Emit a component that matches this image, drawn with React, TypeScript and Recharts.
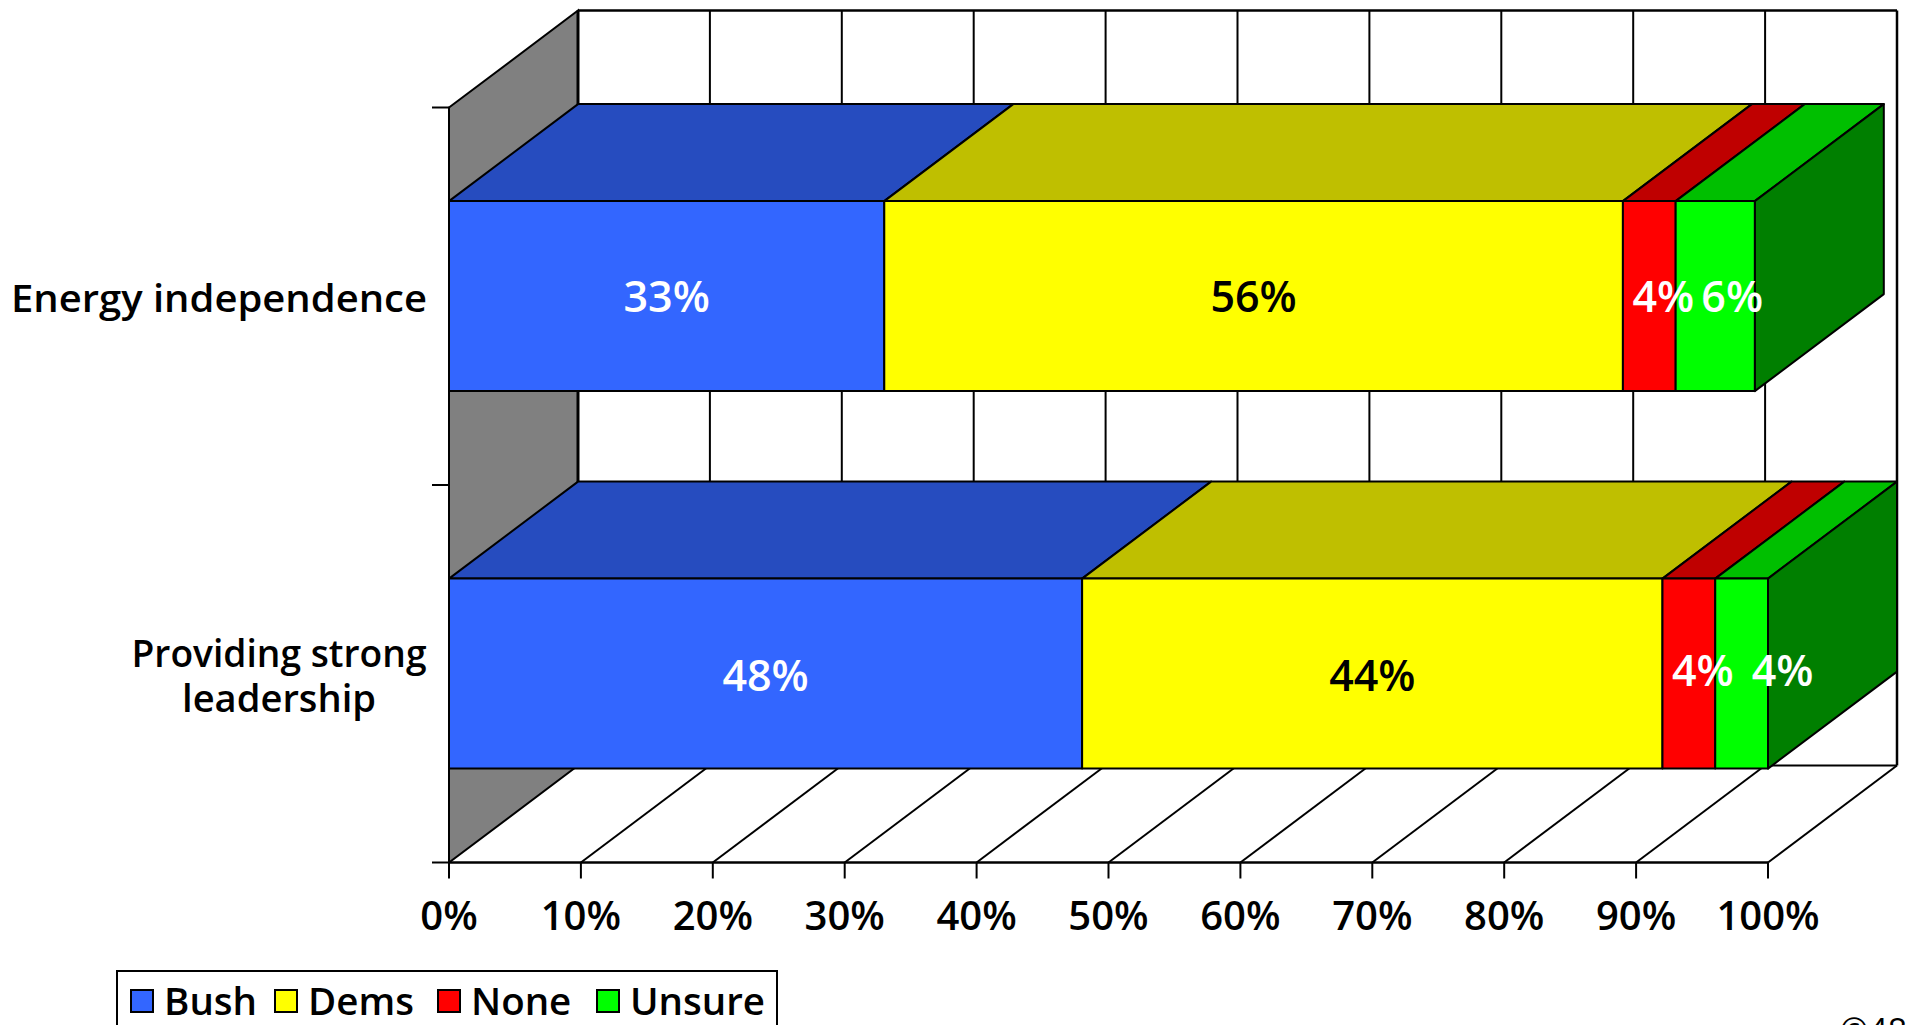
import {
  Bar,
  BarChart,
  CartesianGrid,
  LabelList,
  XAxis,
  YAxis,
} from "recharts";

const categories = ["Energy independence", "Providing strong leadership"];
const bushValues = [33, 48];
const demsValues = [56, 44];
const noneValues = [4, 4];
const unsureValues = [6, 4];
const xTicks = [0, 10, 20, 30, 40, 50, 60, 70, 80, 90, 100];

const tableData = categories.map((name, i) => ({
  name,
  Bush: bushValues[i],
  Dems: demsValues[i],
  None: noneValues[i],
  Unsure: unsureValues[i],
}));

const FONT = "'Open Sans', sans-serif";
const WIDTH = 1906;
const HEIGHT = 1025;
const PLOT_LEFT = 449;
const PLOT_TOP = 107.5;
const PLOT_RIGHT = 1768;
const PLOT_BOTTOM = 862.5;
const DX = 129;
const DY = 97;

// hand placed in the original, px right of the segment middle
const labelShift: Record<string, number[]> = {
  Bush: [0, 0],
  Dems: [0, 0],
  None: [14, 14],
  Unsure: [17, 41],
};
const labelLift: Record<string, number[]> = {
  Bush: [0, -2],
  Dems: [0, -2],
  None: [0, 3],
  Unsure: [0, 3],
};

const seriesStyles = [
  { key: "Bush", front: "#3366FF", top: "#264CBF", text: "#FFFFFF" },
  { key: "Dems", front: "#FFFF00", top: "#BFBF00", text: "#000000" },
  { key: "None", front: "#FF0000", top: "#BF0000", text: "#FFFFFF" },
  { key: "Unsure", front: "#00FF00", top: "#00BF00", text: "#FFFFFF" },
];

function Box3D(props: any) {
  const { x, y, width, height, front, top, isLast } = props;
  const r = x + width;
  return (
    <g stroke="#000" strokeWidth={2} strokeLinejoin="round">
      <polygon
        points={`${x},${y} ${x + DX},${y - DY} ${r + DX},${y - DY} ${r},${y}`}
        fill={top}
      />
      {isLast && (
        <polygon
          points={`${r},${y} ${r + DX},${y - DY} ${r + DX},${y + height - DY} ${r},${y + height}`}
          fill="#007F00"
        />
      )}
      <rect x={x} y={y} width={width} height={height} fill={front} />
    </g>
  );
}

// one call per x tick, so wall and floor lines follow the axis scale
function WallLine(props: any) {
  const { x1, y1, y2 } = props;
  const isFirst = Math.abs(x1 - PLOT_LEFT) < 1;
  const isEnd = Math.abs(x1 - PLOT_RIGHT) < 1;
  const band = (y2 - y1) / categories.length;
  return (
    <g stroke="#000" fill="none">
      {isFirst && (
        <>
          <polygon
            points={`${x1},${y1} ${x1 + DX},${y1 - DY} ${x1 + DX},${y2 - DY} ${x1},${y2}`}
            fill="#808080"
            strokeWidth={2}
          />
          <line x1={x1 + DX} y1={y1 - DY} x2={PLOT_RIGHT + DX} y2={y1 - DY} strokeWidth={2.5} />
          <line x1={x1 + DX} y1={y2 - DY} x2={PLOT_RIGHT + DX} y2={y2 - DY} strokeWidth={2} />
          <line x1={x1 + DX} y1={y1 - DY} x2={x1 + DX} y2={y2 - DY} strokeWidth={3} />
          {categories.concat("").map((_, i) => (
            <line
              key={i}
              x1={x1 - 17}
              y1={y1 + band * i}
              x2={x1}
              y2={y1 + band * i}
              strokeWidth={2}
            />
          ))}
        </>
      )}
      {!isFirst && (
        <>
          <line x1={x1 + DX} y1={y1 - DY} x2={x1 + DX} y2={y2 - DY} strokeWidth={isEnd ? 2.5 : 2} />
          <line x1={x1} y1={y2} x2={x1 + DX} y2={y2 - DY} strokeWidth={2} />
        </>
      )}
    </g>
  );
}

function ValueLabel(props: any) {
  const { x, y, width, height, value, index, seriesKey, color } = props;
  return (
    <text
      x={x + width / 2 + labelShift[seriesKey][index]}
      y={y + height / 2 + 4 - labelLift[seriesKey][index]}
      fill={color}
      fontFamily={FONT}
      fontSize={43}
      fontWeight={600}
      textAnchor="middle"
      dominantBaseline="middle"
    >
      {value}%
    </text>
  );
}

function CategoryTick(props: any) {
  const { y, payload } = props;
  const name: string = payload.value;
  const style = { fill: "#000", fontFamily: FONT, fontSize: 37, fontWeight: 600 };
  if (name === "Providing strong leadership") {
    return (
      <text {...style} textAnchor="middle">
        <tspan x={279} y={y - 6.5} textLength={295} lengthAdjust="spacingAndGlyphs">
          Providing strong
        </tspan>
        <tspan x={279} y={y + 38.5} textLength={194} lengthAdjust="spacingAndGlyphs">
          leadership
        </tspan>
      </text>
    );
  }
  return (
    <text {...style} x={427} y={y + 15.5} textAnchor="end" textLength={416} lengthAdjust="spacingAndGlyphs">
      {name}
    </text>
  );
}

function LegendBox() {
  return (
    <div
      style={{
        position: "absolute",
        left: 116,
        top: 970,
        width: 662,
        height: 70,
        boxSizing: "border-box",
        border: "2px solid #000",
        background: "#fff",
        fontFamily: FONT,
        fontWeight: 600,
        fontSize: 38.5,
        lineHeight: 1,
        color: "#000",
      }}
    >
      {seriesStyles.map((s, i) => (
        <div
          key={s.key}
          style={{
            position: "absolute",
            left: [12, 156, 319, 478][i],
            top: 16,
            display: "flex",
            alignItems: "center",
            height: 24,
          }}
        >
          <span
            style={{
              width: 24,
              height: 24,
              marginTop: 2,
              boxSizing: "border-box",
              border: "2px solid #000",
              background: s.front,
              marginRight: 10,
            }}
          />
          <span>{s.key}</span>
        </div>
      ))}
    </div>
  );
}

export default function App() {
  return (
    <div
      style={{
        position: "absolute",
        left: 0,
        top: 0,
        width: WIDTH,
        height: HEIGHT,
        overflow: "hidden",
        background: "#fff",
      }}
    >
      <BarChart
        width={WIDTH}
        height={HEIGHT}
        layout="vertical"
        data={tableData}
        barCategoryGap="24.8%"
        margin={{ top: PLOT_TOP, right: WIDTH - PLOT_RIGHT, left: 0, bottom: HEIGHT - PLOT_BOTTOM - 80 }}
      >
        <CartesianGrid horizontal={false} vertical={(p: any) => <WallLine key={p.key} {...p} />} />
        <XAxis
          type="number"
          domain={[0, 100]}
          ticks={xTicks}
          interval={0}
          height={80}
          tickSize={16}
          tickMargin={23}
          tickFormatter={(v: number) => `${v}%`}
          axisLine={{ stroke: "#000", strokeWidth: 2.5 }}
          tickLine={{ stroke: "#000", strokeWidth: 2 }}
          tick={{ fill: "#000", fontFamily: FONT, fontSize: 40, fontWeight: 600 }}
        />
        <YAxis
          type="category"
          dataKey="name"
          width={PLOT_LEFT}
          interval={0}
          tickLine={false}
          tickMargin={0}
          axisLine={{ stroke: "#000", strokeWidth: 2 }}
          tick={<CategoryTick />}
        />
        {seriesStyles.map((s, i) => (
          <Bar
            key={s.key}
            dataKey={s.key}
            stackId="a"
            isAnimationActive={false}
            fill={s.front}
            shape={(p: any) => (
              <Box3D {...p} front={s.front} top={s.top} isLast={i === seriesStyles.length - 1} />
            )}
          >
            <LabelList
              dataKey={s.key}
              content={(p: any) => <ValueLabel {...p} seriesKey={s.key} color={s.text} />}
            />
          </Bar>
        ))}
      </BarChart>
      <LegendBox />
      <div
        style={{
          position: "absolute",
          left: 1840,
          top: 1007,
          fontFamily: FONT,
          fontSize: 34,
          color: "#000",
          whiteSpace: "nowrap",
        }}
      >
        ©48
      </div>
    </div>
  );
}
